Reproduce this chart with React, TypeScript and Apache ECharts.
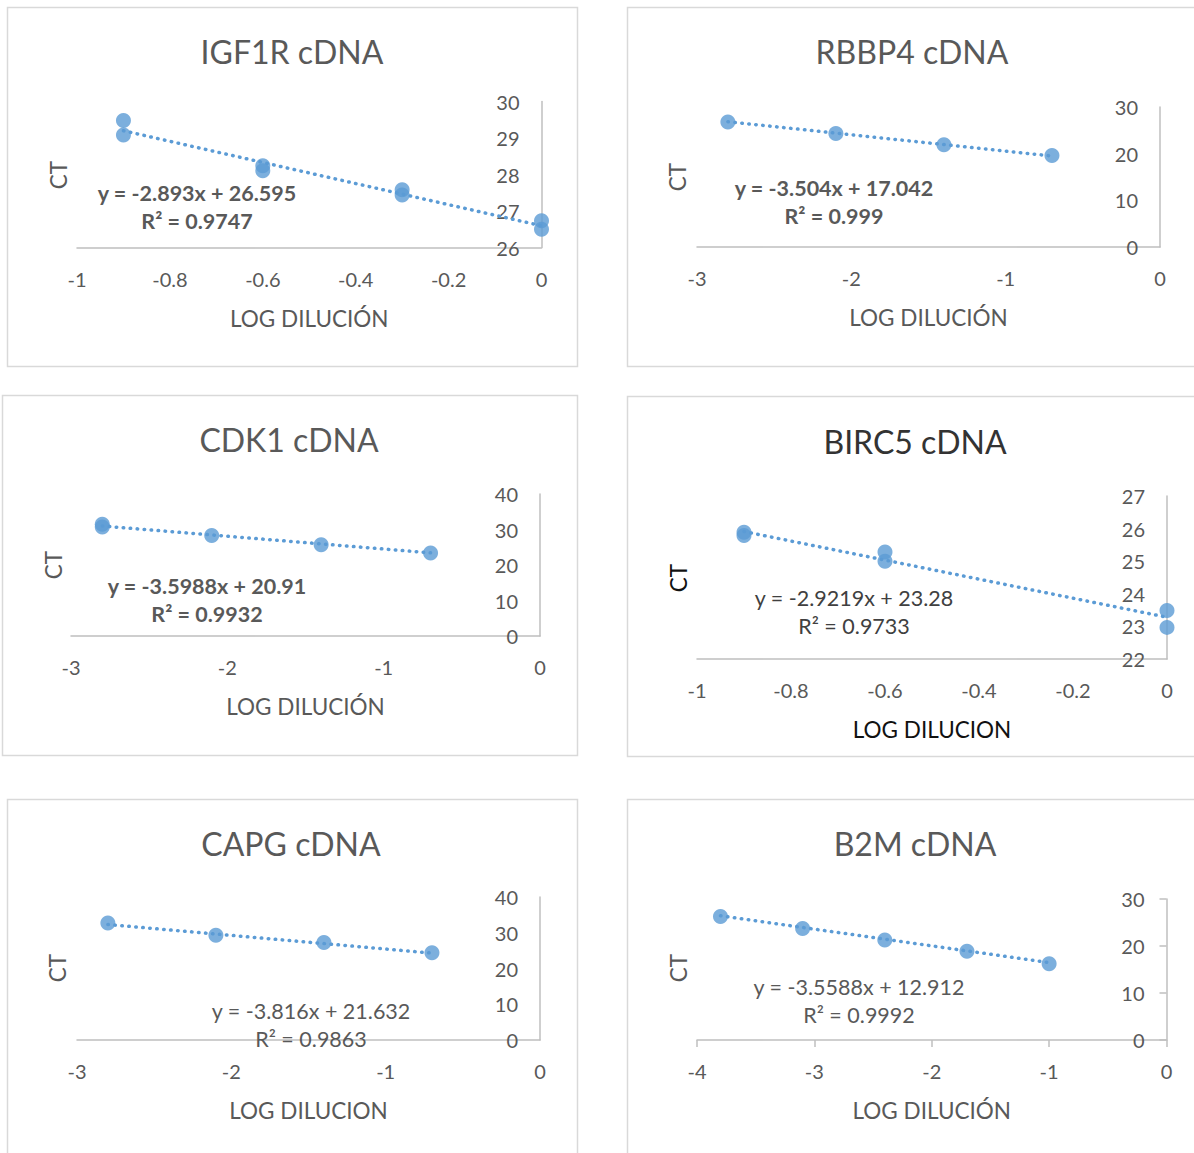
import React, { useEffect, useRef } from "react";
import * as echarts from "echarts";

// ---------- data ----------
const titles = ["IGF1R cDNA", "RBBP4 cDNA", "CDK1 cDNA", "BIRC5 cDNA", "CAPG cDNA", "B2M cDNA"];
const xNames = ["LOG DILUCIÓN", "LOG DILUCIÓN", "LOG DILUCIÓN", "LOG DILUCION", "LOG DILUCION", "LOG DILUCIÓN"];

const igf1rLog = [-0.9, -0.9, -0.6, -0.6, -0.3, -0.3, 0, 0];
const igf1rCt = [29.48, 29.08, 28.24, 28.1, 27.58, 27.44, 26.73, 26.5];

const rbbp4Log = [-2.8, -2.1, -1.4, -0.7];
const rbbp4Ct = [26.8, 24.3, 21.9, 19.6];

const cdk1Log = [-2.8, -2.8, -2.1, -1.4, -0.7];
const cdk1Ct = [31.5, 30.7, 28.3, 25.7, 23.4];

const birc5Log = [-0.9, -0.9, -0.6, -0.6, 0, 0];
const birc5Ct = [25.89, 25.79, 25.28, 25.0, 23.49, 22.97];

const capgLog = [-2.8, -2.1, -1.4, -0.7];
const capgCt = [32.7, 29.3, 27.3, 24.4];

const b2mLog = [-3.8, -3.1, -2.4, -1.7, -1.0];
const b2mCt = [26.3, 23.7, 21.3, 18.9, 16.2];

const trendSlopes = [-2.893, -3.504, -3.5988, -2.9219, -3.816, -3.5588];
const trendIntercepts = [26.595, 17.042, 20.91, 23.28, 21.632, 12.912];
const r2Values = ["0.9747", "0.999", "0.9932", "0.9733", "0.9863", "0.9992"];

const xMins = [-1, -3, -3, -1, -3, -4];
const xIntervals = [0.2, 1, 1, 0.2, 1, 1];
const yMins = [26, 0, 0, 22, 0, 0];
const yMaxs = [30, 30, 40, 27, 40, 30];
const yIntervals = [1, 10, 10, 1, 10, 10];

const logSets = [igf1rLog, rbbp4Log, cdk1Log, birc5Log, capgLog, b2mLog];
const ctSets = [igf1rCt, rbbp4Ct, cdk1Ct, birc5Ct, capgCt, b2mCt];

// ---------- layout ----------
const grids = [
  { left: 77, top: 101.5, width: 464.5, height: 146 },
  { left: 697, top: 107, width: 463, height: 140 },
  { left: 71, top: 494, width: 469, height: 142 },
  { left: 697, top: 496, width: 470, height: 163 },
  { left: 77, top: 897, width: 463, height: 143 },
  { left: 697, top: 899, width: 469.5, height: 141 },
];
const frames = [
  { x: 7.5, y: 7.5, w: 570, h: 359 },
  { x: 627.5, y: 7.5, w: 600, h: 359 },
  { x: 2.5, y: 395.5, w: 575, h: 360 },
  { x: 627.5, y: 396.5, w: 600, h: 360 },
  { x: 7.5, y: 799.5, w: 570, h: 400 },
  { x: 627.5, y: 799.5, w: 600, h: 400 },
];
const titlePos = [
  [292, 51], [912, 51], [289, 439], [915, 441], [291, 843], [915, 843],
];
const ctPos = [
  [58, 175], [677, 177], [53, 565], [678, 578], [57, 968], [678, 968],
];
const eqPos = [
  [197, 193], [834, 188], [207, 586], [854, 598], [311, 1011], [859, 987],
];
const eqBold = [true, true, true, false, false, false];
const darkPanel = [false, false, false, true, false, false];

const FONT = "Lato, 'Open Sans', sans-serif";
const BLUE = "#5b9bd5";
const GREY = "#595959";
const AXIS = "#bfbfbf";

function fmtEq(m: number, b: number) {
  return `y = ${m}x + ${b}`;
}

export default function App() {
  const ref = useRef<HTMLDivElement>(null);

  useEffect(() => {
    document.body.style.margin = "0";
    const chart = echarts.init(ref.current!, null, { renderer: "svg" });

    const xAxis: any[] = [];
    const yAxis: any[] = [];
    const series: any[] = [];
    const graphic: any[] = [];

    grids.forEach((g, i) => {
      const ticks = i === 5;
      xAxis.push({
        type: "value",
        gridIndex: i,
        min: xMins[i],
        max: 0,
        interval: xIntervals[i],
        name: xNames[i],
        nameLocation: "middle",
        nameGap: 59,
        nameTextStyle: {
          fontFamily: FONT,
          fontSize: 22.5,
          color: darkPanel[i] ? "#111111" : GREY,
        },
        axisLine: { show: true, onZero: false, lineStyle: { color: AXIS, width: 1.5 } },
        axisTick: { show: ticks, length: 7, lineStyle: { color: AXIS, width: 1.5 } },
        axisLabel: { fontFamily: FONT, fontSize: 20, color: GREY, margin: 21 },
        splitLine: { show: false },
      });
      yAxis.push({
        type: "value",
        gridIndex: i,
        position: "right",
        min: yMins[i],
        max: yMaxs[i],
        interval: yIntervals[i],
        axisLine: { show: true, onZero: false, lineStyle: { color: AXIS, width: 1.5 } },
        axisTick: { show: ticks, inside: true, length: 7, lineStyle: { color: AXIS, width: 1.5 } },
        axisLabel: { inside: true, fontFamily: FONT, fontSize: 20, color: GREY, margin: 22 },
        splitLine: { show: false },
      });

      const xs = logSets[i];
      const ys = ctSets[i];
      const xLo = Math.min(...xs);
      const xHi = Math.max(...xs);
      const m = trendSlopes[i];
      const b = trendIntercepts[i];
      series.push({
        type: "line",
        xAxisIndex: i,
        yAxisIndex: i,
        data: [
          [xLo, m * xLo + b],
          [xHi, m * xHi + b],
        ],
        symbol: "none",
        lineStyle: { color: BLUE, width: 3.5, type: [0.5, 6.5], cap: "round" },
        z: 2,
      });
      series.push({
        type: "scatter",
        xAxisIndex: i,
        yAxisIndex: i,
        data: xs.map((x, k) => [x, ys[k]]),
        symbol: "circle",
        symbolSize: 15,
        itemStyle: { color: BLUE },
        z: 3,
      });

      const f = frames[i];
      graphic.push({
        type: "rect",
        shape: { x: f.x, y: f.y, width: f.w, height: f.h },
        style: { fill: "none", stroke: "#d9d9d9", lineWidth: 1.5 },
        z: 0,
      });
      graphic.push({
        type: "text",
        x: titlePos[i][0],
        y: titlePos[i][1],
        style: {
          text: titles[i],
          fontFamily: FONT,
          fontSize: 32,
          fill: darkPanel[i] ? "#333333" : GREY,
          textAlign: "center",
          textVerticalAlign: "middle",
        },
      });
      graphic.push({
        type: "text",
        x: ctPos[i][0],
        y: ctPos[i][1],
        rotation: Math.PI / 2,
        style: {
          text: "CT",
          fontFamily: FONT,
          fontSize: 22.5,
          fill: darkPanel[i] ? "#111111" : GREY,
          textAlign: "center",
          textVerticalAlign: "middle",
        },
      });
      graphic.push({
        type: "text",
        x: eqPos[i][0],
        y: eqPos[i][1],
        style: {
          text: fmtEq(m, b),
          fontFamily: FONT,
          fontSize: 21.5,
          fontWeight: eqBold[i] ? "bold" : "normal",
          fill: darkPanel[i] ? "#404040" : GREY,
          textAlign: "center",
          textVerticalAlign: "middle",
        },
        z: 10,
      });
      graphic.push({
        type: "text",
        x: eqPos[i][0],
        y: eqPos[i][1] + 28,
        style: {
          text: `R² = ${r2Values[i]}`,
          fontFamily: FONT,
          fontSize: 21.5,
          fontWeight: eqBold[i] ? "bold" : "normal",
          fill: darkPanel[i] ? "#404040" : GREY,
          textAlign: "center",
          textVerticalAlign: "middle",
        },
        z: 10,
      });
    });

    chart.setOption({
      animation: false,
      backgroundColor: "#ffffff",
      grid: grids.map((g) => ({ ...g, containLabel: false })),
      xAxis,
      yAxis,
      series,
      graphic,
    });

    return () => chart.dispose();
  }, []);

  return <div ref={ref} style={{ width: 1194, height: 1153 }} />;
}
